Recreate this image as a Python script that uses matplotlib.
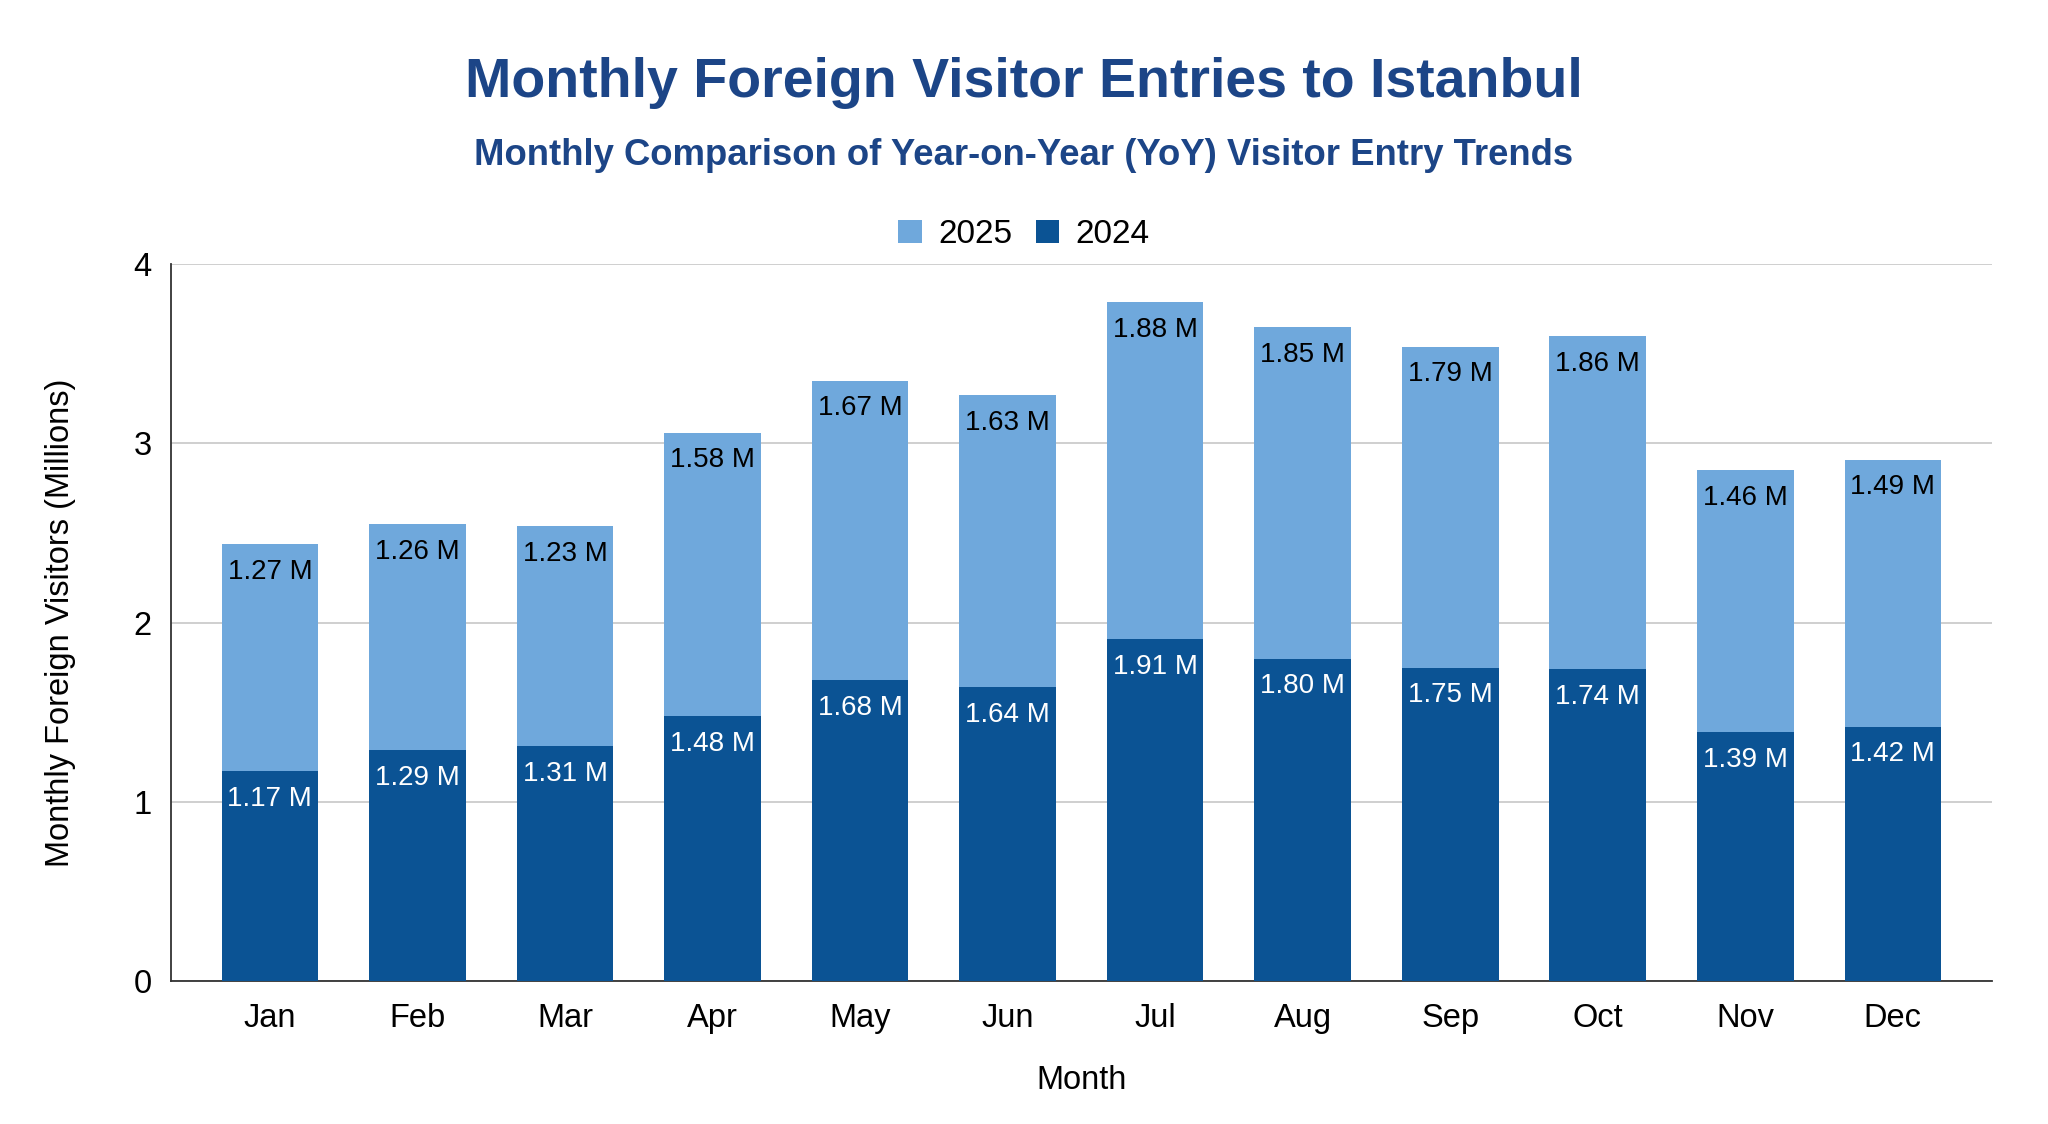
import matplotlib.pyplot as plt
import numpy as np

plt.rcParams['font.family'] = ['Liberation Sans', 'DejaVu Sans']

months = ['Jan', 'Feb', 'Mar', 'Apr', 'May', 'Jun', 'Jul', 'Aug', 'Sep', 'Oct', 'Nov', 'Dec']
visitors_2024 = [1.17, 1.29, 1.31, 1.48, 1.68, 1.64, 1.91, 1.80, 1.75, 1.74, 1.39, 1.42]
visitors_2025 = [1.27, 1.26, 1.23, 1.58, 1.67, 1.63, 1.88, 1.85, 1.79, 1.86, 1.46, 1.49]

dark = '#0b5394'
light = '#6fa8dc'
title_col = '#1c4587'

fig = plt.figure(figsize=(20.48, 11.24), dpi=100)
ax = fig.add_axes([0.0835, 0.127, 0.889, 0.638])

x = np.arange(len(months))
w = 0.655
b24 = ax.bar(x, visitors_2024, w, color=dark, label='2024', zorder=3)
b25 = ax.bar(x, visitors_2025, w, bottom=visitors_2024, color=light, label='2025', zorder=3)

for i in range(len(months)):
    top24 = visitors_2024[i]
    top25 = visitors_2024[i] + visitors_2025[i]
    ax.annotate(f'{visitors_2024[i]:.2f} M', (x[i], top24), xytext=(0, -20),
                textcoords='offset points', ha='center', va='center',
                fontsize=20, color='white', zorder=4)
    ax.annotate(f'{visitors_2025[i]:.2f} M', (x[i], top25), xytext=(0, -20),
                textcoords='offset points', ha='center', va='center',
                fontsize=20, color='black', zorder=4)

ax.set_ylim(0, 4)
ax.set_xlim(-0.67, len(months) - 0.33)
ax.set_yticks([0, 1, 2, 3, 4])
ax.set_xticks(x)
ax.set_xticklabels(months)
ax.tick_params(axis='both', length=0, labelsize=23.5, pad=16)
ax.tick_params(axis='y', pad=14)
ax.yaxis.grid(True, color='#cccccc', linewidth=1.3, zorder=0)
ax.set_axisbelow(True)
for s in ['top', 'right']:
    ax.spines[s].set_visible(False)
ax.spines['left'].set_color('#333333')
ax.spines['bottom'].set_color('#333333')
ax.spines['left'].set_linewidth(1.3)
ax.spines['bottom'].set_linewidth(1.3)

ax.set_xlabel('Month', fontsize=23.5, labelpad=22)
ax.set_ylabel('Monthly Foreign Visitors (Millions)', fontsize=23.5, labelpad=41)

fig.text(0.5, 0.926, 'Monthly Foreign Visitor Entries to Istanbul', ha='center', va='center',
         fontsize=40, fontweight='bold', color=title_col)
fig.text(0.5, 0.862, 'Monthly Comparison of Year-on-Year (YoY) Visitor Entry Trends', ha='center',
         va='center', fontsize=26.3, fontweight='bold', color=title_col)

handles = [b25, b24]
fig.legend(handles, ['2025', '2024'], loc='center', bbox_to_anchor=(0.5, 0.791), ncol=2,
           frameon=False, fontsize=24, handlelength=0.7, handleheight=0.7,
           handletextpad=0.5, columnspacing=0.7)

fig.savefig('out.png', dpi=100)
